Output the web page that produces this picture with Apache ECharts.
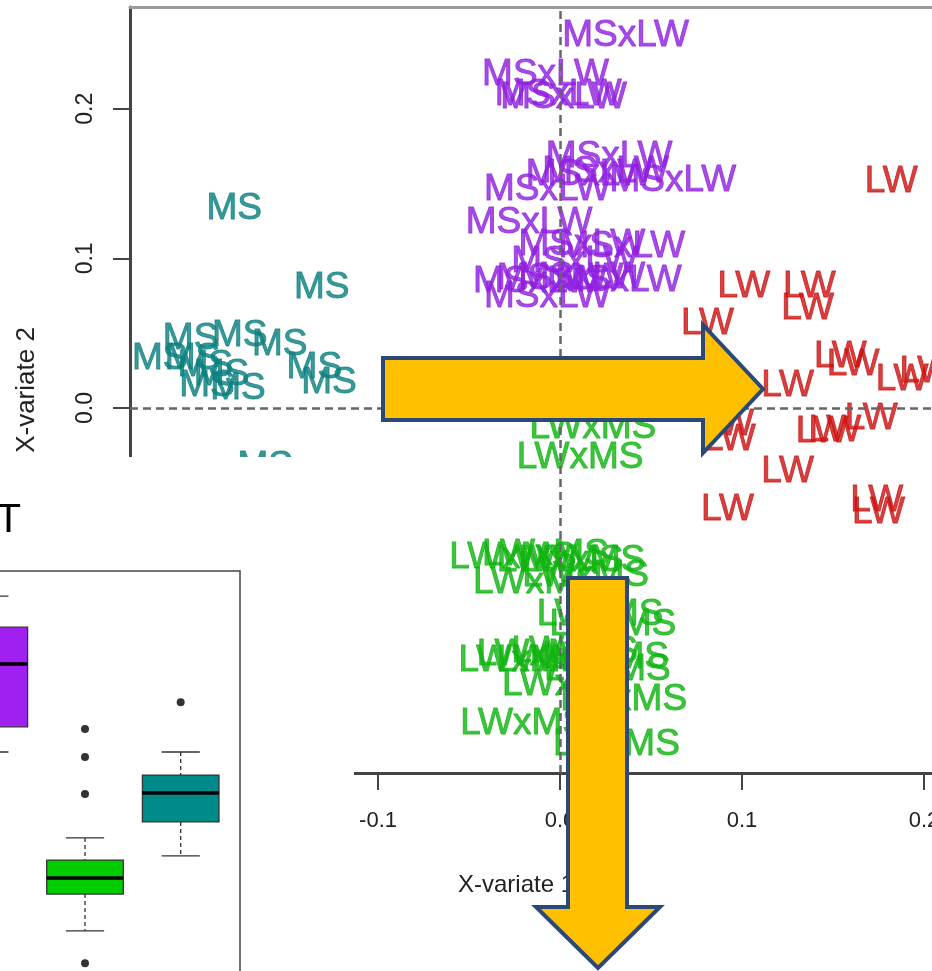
<!DOCTYPE html>
<html><head><meta charset="utf-8">
<script src="https://cdn.jsdelivr.net/npm/echarts@6/dist/echarts.min.js"></script>
<style>html,body{margin:0;padding:0;background:#fff}#c{width:932px;height:971px}</style>
</head><body><div id="c"></div>
<script>
// ---- scatter (text-label) plot data: [X-variate 1, X-variate 2] ----
const xTickValues = [-0.2, -0.1, 0, 0.1, 0.2];
const yTickValues = [-0.2, -0.1, 0, 0.1, 0.2];
const groupNames = ['MS', 'MSxLW', 'LW', 'LWxMS'];
const msPoints = [
  [-0.179, 0.133], [-0.131, 0.080], [-0.220, 0.033], [-0.203, 0.046], [-0.176, 0.048],
  [-0.154, 0.042], [-0.135, 0.027], [-0.127, 0.017], [-0.202, 0.033], [-0.195, 0.028],
  [-0.194, 0.015], [-0.177, 0.013], [-0.186, 0.022], [-0.162, -0.039]
];
const msxlwPoints = [
  [0.036, 0.249], [-0.008, 0.223], [-0.001, 0.209], [0.002, 0.207], [0.027, 0.168],
  [-0.007, 0.146], [0.062, 0.152], [0.016, 0.156], [0.025, 0.158], [-0.017, 0.124],
  [0.012, 0.109], [0.034, 0.108], [0.008, 0.098], [0.032, 0.085], [-0.013, 0.084],
  [0.000, 0.086], [0.012, 0.087], [-0.007, 0.074]
];
const lwPoints = [
  [0.182, 0.151], [0.101, 0.081], [0.137, 0.081], [0.136, 0.066], [0.081, 0.056],
  [0.154, 0.034], [0.161, 0.029], [0.188, 0.019], [0.201, 0.024], [0.125, 0.015],
  [0.171, -0.007], [0.144, -0.016], [0.151, -0.015], [0.092, -0.011], [0.093, -0.021],
  [0.125, -0.043], [0.092, -0.068], [0.174, -0.062], [0.175, -0.070]
];
const lwxmsPoints = [
  [0.018, -0.013], [0.011, -0.033], [-0.026, -0.100], [-0.008, -0.098], [0.000, -0.102],
  [0.012, -0.102], [0.014, -0.112], [-0.013, -0.117], [0.022, -0.138], [0.029, -0.145],
  [-0.021, -0.169], [-0.011, -0.165], [0.000, -0.169], [0.008, -0.163], [0.025, -0.167],
  [0.026, -0.175], [0.003, -0.185], [0.035, -0.195], [-0.020, -0.211], [0.031, -0.225]
];

// ---- box plot data (inset) ----
const boxGroups = ['MSxLW', 'LWxMS', 'MS'];
const boxLow    = [56.8, 14.1, 32.0];
const boxQ1     = [62.8, 22.9, 40.1];
const boxMedian = [77.8, 26.7, 47.0];
const boxQ3     = [86.6, 31.0, 51.3];
const boxHigh   = [94.0, 36.3, 56.8];
const outlierGroup = [2, 2, 2, 2, 3];
const outlierValue = [62.3, 55.6, 46.8, 6.4, 68.7];

// ---- styles ----
const FONT = "'Liberation Sans', Arial, sans-serif";
const groupColors = { 'MS': '#0b8080', 'MSxLW': '#9020e0', 'LW': '#cc1212', 'LWxMS': '#10b410' };
const boxFill = ['#a020f0', '#00cd00', '#008b8b'];
const ARROW_FILL = '#ffc000', ARROW_STROKE = '#2c4877';

const chart = echarts.init(document.getElementById('c'), null, { renderer: 'canvas' });

function labelSeries(name, pts) {
  return {
    type: 'scatter', name, xAxisIndex: 0, yAxisIndex: 0, data: pts,
    symbolSize: 1, itemStyle: { color: 'rgba(0,0,0,0)' }, clip: false, silent: true,
    emphasis: { disabled: true },
    label: { show: true, position: 'inside', formatter: name, color: groupColors[name],
             fontSize: 37, fontFamily: FONT, textBorderColor: groupColors[name], textBorderWidth: 0.9 }
  };
}

const boxData = boxGroups.map((g, i) => [i + 1, boxLow[i], boxQ1[i], boxMedian[i], boxQ3[i], boxHigh[i]]);
const outlierData = outlierGroup.map((g, i) => [g, outlierValue[i]]);

const series = [
  Object.assign(labelSeries('MS', msPoints), {
    markLine: {
      silent: true, symbol: ['none', 'none'], label: { show: false },
      lineStyle: { type: [8, 5], color: '#666', width: 2.5 },
      data: [{ xAxis: 0 }, { yAxis: 0 }]
    }
  }),
  labelSeries('MSxLW', msxlwPoints),
  labelSeries('LW', lwPoints),
  labelSeries('LWxMS', lwxmsPoints),
  {
    type: 'custom', xAxisIndex: 1, yAxisIndex: 1, data: boxData, z: 200, silent: true, clip: false,
    renderItem: function (params, api) {
      const gi = api.value(0);
      const xc = api.coord([gi, 50])[0];
      const w = api.size([0.8, 0])[0];
      const yLo = api.coord([gi, api.value(1)])[1];
      const yQ1 = api.coord([gi, api.value(2)])[1];
      const yMed = api.coord([gi, api.value(3)])[1];
      const yQ3 = api.coord([gi, api.value(4)])[1];
      const yHi = api.coord([gi, api.value(5)])[1];
      const ln = { stroke: '#333', lineWidth: 1.3 };
      return {
        type: 'group', children: [
          { type: 'line', shape: { x1: xc, y1: yHi, x2: xc, y2: yQ3 }, style: Object.assign({ lineDash: [4, 3] }, ln) },
          { type: 'line', shape: { x1: xc, y1: yQ1, x2: xc, y2: yLo }, style: Object.assign({ lineDash: [4, 3] }, ln) },
          { type: 'line', shape: { x1: xc - w / 4, y1: yHi, x2: xc + w / 4, y2: yHi }, style: ln },
          { type: 'line', shape: { x1: xc - w / 4, y1: yLo, x2: xc + w / 4, y2: yLo }, style: ln },
          { type: 'rect', shape: { x: xc - w / 2, y: yQ3, width: w, height: yQ1 - yQ3 },
            style: { fill: boxFill[params.dataIndex], stroke: '#333', lineWidth: 1.3 } },
          { type: 'line', shape: { x1: xc - w / 2, y1: yMed, x2: xc + w / 2, y2: yMed },
            style: { stroke: '#000', lineWidth: 3.5 } }
        ]
      };
    }
  },
  {
    type: 'scatter', xAxisIndex: 1, yAxisIndex: 1, data: outlierData, z: 200, silent: true,
    symbol: 'circle', symbolSize: 8, itemStyle: { color: '#000' }, clip: false
  }
];

const option = {
  animation: false,
  backgroundColor: '#fff',
  grid: [
    { left: 130, top: 7, right: 0, bottom: 198, show: false, outerBoundsMode: 'none', containLabel: false },
    { left: 0, top: 571, width: 240, height: 400, show: false, outerBoundsMode: 'none', containLabel: false }
  ],
  xAxis: [
    {
      type: 'value', gridIndex: 0, min: -0.2363, max: 0.2044,
      splitLine: { show: false },
      axisLine: { show: true, onZero: false, lineStyle: { color: '#444', width: 3 } },
      axisTick: { show: true, length: 17, customValues: xTickValues, lineStyle: { color: '#444', width: 2 } },
      axisLabel: { customValues: xTickValues, formatter: v => v.toFixed(1), fontSize: 22,
                   color: '#222', margin: 37, fontFamily: FONT },
      name: 'X-variate 1', nameLocation: 'middle', nameGap: 100,
      nameTextStyle: { fontSize: 24, color: '#222', fontFamily: FONT, padding: [0, 30, 0, 0] }
    },
    { type: 'value', gridIndex: 1, min: 1.1116, max: 3.62, show: false, splitLine: { show: false } },
    {
      type: 'value', gridIndex: 0, position: 'top', min: -0.2363, max: 0.2044,
      splitLine: { show: false }, axisTick: { show: false }, axisLabel: { show: false },
      axisLine: { show: true, onZero: false, lineStyle: { color: '#9a9a9a', width: 3 } }
    }
  ],
  yAxis: [
    {
      type: 'value', gridIndex: 0, min: -0.244, max: 0.268,
      splitLine: { show: false },
      axisLine: { show: true, onZero: false, lineStyle: { color: '#444', width: 3 } },
      axisTick: { show: true, length: 17, customValues: yTickValues, lineStyle: { color: '#444', width: 2 } },
      axisLabel: { customValues: yTickValues, formatter: v => v.toFixed(1), rotate: 90, fontSize: 23,
                   color: '#222', margin: 33, fontFamily: FONT },
      name: 'X-variate 2', nameLocation: 'middle', nameGap: 90,
      nameTextStyle: { fontSize: 26, color: '#222', fontFamily: FONT }
    },
    { type: 'value', gridIndex: 1, min: 4.53, max: 100, show: false, splitLine: { show: false } }
  ],
  series,
  graphic: [
    { type: 'rect', z: 100, silent: true, shape: { x: 0, y: 457, width: 354, height: 520 }, style: { fill: '#fff' } },
    { type: 'rect', z: 150, silent: true, shape: { x: -70, y: 571, width: 310, height: 440 },
      style: { fill: 'none', stroke: '#444', lineWidth: 1.5 } },
    { type: 'text', z: 110, silent: true, x: -4, y: 541,
      style: { text: 'T', fontSize: 41, fontFamily: FONT, fill: '#000', textVerticalAlign: 'bottom' } },
    { type: 'polygon', z: 300, silent: true,
      shape: { points: [[383, 358], [703, 358], [703, 325], [763, 389], [703, 453], [703, 420], [383, 420]] },
      style: { fill: ARROW_FILL, stroke: ARROW_STROKE, lineWidth: 4, lineJoin: 'miter' } },
    { type: 'polygon', z: 300, silent: true,
      shape: { points: [[568, 578], [627, 578], [627, 907], [660, 907], [598, 968], [536, 907], [568, 907]] },
      style: { fill: ARROW_FILL, stroke: ARROW_STROKE, lineWidth: 4, lineJoin: 'miter' } }
  ]
};
chart.setOption(option);
</script></body></html>
